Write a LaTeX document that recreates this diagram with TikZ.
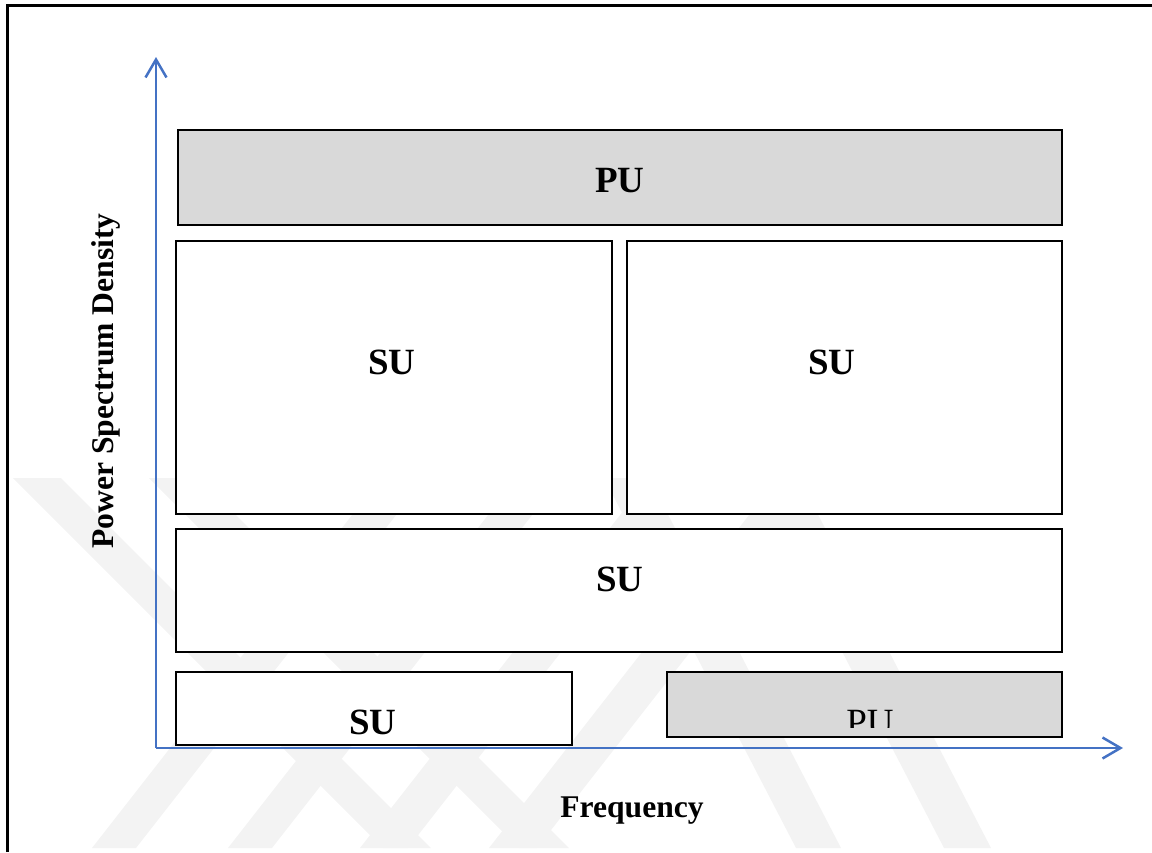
\documentclass[tikz,border=0pt]{standalone}
\usepackage{fontspec}
\setmainfont{Liberation Serif}
\usetikzlibrary{arrows.meta}
\definecolor{axisblue}{HTML}{4472C4}
\definecolor{pugray}{HTML}{D9D9D9}
\definecolor{wmgray}{HTML}{F3F3F3}

\begin{document}
\begin{tikzpicture}[x=0.5pt,y=-0.5pt,
  band/.style={draw=black,line width=1.4pt,fill=white,rectangle,inner sep=0pt,outer sep=0pt},
  puband/.style={band,fill=pugray},
  lbl/.style={font=\fontsize{18.5}{20}\selectfont\bfseries,inner sep=0pt,anchor=base},
  axlbl/.style={font=\fontsize{15.8}{18}\selectfont\bfseries,inner sep=0pt},
  axisline/.style={draw=axisblue,line width=1.25pt,
    -{Straight Barb[length=9pt,width=10.5pt,line width=1.25pt]}},
  wm/.style={fill=wmgray,draw=none},
]
\useasboundingbox (0,0) rectangle (1152,852);

% faint background watermark stripes
\begin{scope}
  \clip (0,478) rectangle (1152,852);
  \fill[wm] (13,478) -- (61,478) -- (431,848) -- (383,848) -- cycle;
  \fill[wm] (149,478) -- (199,478) -- (569,848) -- (519,848) -- cycle;
  \fill[wm] (92,848) -- (136,848) -- (425,478) -- (381,478) -- cycle;
  \fill[wm] (228,848) -- (272,848) -- (561,478) -- (517,478) -- cycle;
  \fill[wm] (360,848) -- (408,848) -- (697,478) -- (649,478) -- cycle;
  \fill[wm] (489,848) -- (537,848) -- (826,478) -- (778,478) -- cycle;
  \fill[wm] (796,848) -- (841,848) -- (649,478) -- (604,478) -- cycle;
  \fill[wm] (944,848) -- (991,848) -- (799,478) -- (752,478) -- cycle;
\end{scope}

% outer frame
\draw[line width=1.5pt] (7,852) -- (7,5) -- (1152,5);

% axes
\coordinate (origin) at (156,748);
\coordinate (ytip) at (156,57);
\coordinate (xtip) at (1123,748);
\draw[axisline] (origin) -- (ytip);
\draw[axisline] (origin) -- (xtip);

% spectrum bands
\node[puband,minimum width=442pt,minimum height=47.5pt] (putop) at (620,177.5) {};
\node[band,minimum width=218pt,minimum height=136.5pt] (sua) at (394,377.5) {};
\node[band,minimum width=217.5pt,minimum height=136.5pt] (sub) at (844.5,377.5) {};
\node[band,minimum width=443pt,minimum height=61.5pt] (suc) at (619,590.5) {};
\node[band,minimum width=198pt,minimum height=36.5pt] (sud) at (374,708.5) {};
\node[puband,minimum width=197.5pt,minimum height=32.5pt] (pubot) at (864.5,704.5) {};

% band labels
\node[lbl] (putoplbl) at (620,192) {PU};
\node[lbl] (sualbl) at (392,374) {SU};
\node[lbl] (sublbl) at (832,374) {SU};
\node[lbl] (suclbl) at (620,591) {SU};
\node[lbl] (sudlbl) at (373,734) {SU};
\begin{scope}
  \clip (667,672) rectangle (1062,727);
  \node[font=\fontsize{18.5}{20}\selectfont,inner sep=0pt,anchor=base] (pubotlbl) at (870,734) {PU};
\end{scope}

% axis labels
\node[axlbl,rotate=90] (ylbl) at (106,381) {Power Spectrum Density};
\node[axlbl,anchor=base] (xlbl) at (632,817) {Frequency};
\end{tikzpicture}
\end{document}
